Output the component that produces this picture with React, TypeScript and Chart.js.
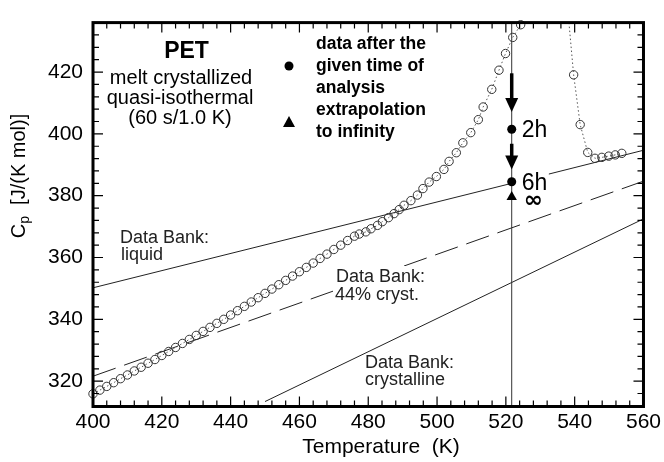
import React, { useEffect, useRef } from "react";
import { Chart, registerables } from "chart.js";
Chart.register(...registerables);

const FONT = "'Liberation Sans', Arial, Helvetica, sans-serif";

const xTickValues = [400, 420, 440, 460, 480, 500, 520, 540, 560];
const yTickValues = [320, 340, 360, 380, 400, 420];
const X_MIN = 400;
const X_MAX = 560;
const Y_MIN = 311.8;
const Y_MAX = 436;
const MINOR_STEP = 4;

// quasi-isothermal Cp on cooling / crystallization (open circles)
const meltT = [
  400, 402, 404, 406, 408, 410, 412, 414, 416, 418, 420, 422, 424, 426, 428, 430,
  432, 434, 436, 438, 440, 442, 444, 446, 448, 450, 452, 454, 456, 458, 460, 462,
  464, 466, 468, 470, 472, 474, 476, 477.4, 479.3, 480.8, 482.7, 484.1, 485.9,
  487.5, 489.0, 490.4, 492.4, 494.3, 495.9, 497.7, 499.8, 502.0, 503.5, 505.6,
  507.5, 509.8, 512.0, 513.4, 515.9, 518.0, 519.9, 522.0, 524.3,
];
const meltCp = [
  315.9, 317.1, 318.3, 319.5, 320.8, 322.0, 323.3, 324.5, 325.8, 327.0, 328.3,
  329.6, 330.9, 332.2, 333.5, 334.8, 336.1, 337.4, 338.7, 340.0, 341.4, 342.8,
  344.2, 345.6, 347.0, 348.4, 349.8, 351.2, 352.6, 354.0, 355.4, 356.8, 358.2,
  359.7, 361.1, 362.6, 364.0, 365.5, 366.9, 367.6, 368.3, 369.3, 370.4, 371.6,
  372.9, 374.2, 375.5, 376.9, 378.4, 380.2, 382.3, 384.4, 386.2, 388.5, 391.1,
  393.9, 397.1, 400.4, 404.6, 408.7, 414.4, 420.6, 426.0, 431.2, 435.3,
];

// second branch (right, open circles)
const reheatT = [537.6, 539.7, 541.6, 543.8, 545.9, 547.9, 549.9, 551.8, 553.7];
const reheatCp = [445.0, 419.1, 403.0, 394.0, 392.1, 392.4, 392.8, 393.2, 393.7];

// Data Bank reference lines
const liquidT = [400, 521.7, 527, 532.5, 560];
const liquidCp = [350.2, 384.0, null, 387.0, 394.7];
const semiT = [400, 560];
const semiCp = [321.6, 384.7];
const crystT = [450, 560];
const crystCp = [313.4, 372.5];

// isothermal line, measured points and extrapolation
const isoT = [521.7, 521.7];
const isoCp = [Y_MIN, Y_MAX];
const measT = [521.7, 521.7];
const measCp = [401.5, 384.5];
const measLabels = ["2h", "6h"];
const extrapT = [521.7];
const extrapCp = [379.6];
const extrapLabel = "\u221E";
const arrowT = [521.7, 521.7];
const arrowFromCp = [419.6, 396.8];
const arrowToCp = [407.1, 388.5];

const pts = (xs: number[], ys: (number | null)[]) => xs.map((x, i) => ({ x, y: ys[i] }));

const decorPlugin = {
  id: "decor",
  afterDraw(chart: any) {
    const ctx: CanvasRenderingContext2D = chart.ctx;
    const a = chart.chartArea;
    const xs = chart.scales.x;
    const ys = chart.scales.y;
    ctx.save();

    // arrows
    ctx.fillStyle = "#000";
    ctx.strokeStyle = "#000";
    for (let i = 0; i < arrowT.length; i++) {
      const x = xs.getPixelForValue(arrowT[i]);
      const y0 = ys.getPixelForValue(arrowFromCp[i]);
      const y1 = ys.getPixelForValue(arrowToCp[i]);
      ctx.lineWidth = 3.5;
      ctx.beginPath();
      ctx.moveTo(x, y0);
      ctx.lineTo(x, y1 - 11);
      ctx.stroke();
      ctx.beginPath();
      ctx.moveTo(x - 6.5, y1 - 14);
      ctx.lineTo(x + 6.5, y1 - 14);
      ctx.lineTo(x, y1);
      ctx.closePath();
      ctx.fill();
    }

    // labels next to points
    ctx.font = `23px ${FONT}`;
    ctx.textAlign = "left";
    ctx.textBaseline = "alphabetic";
    for (let i = 0; i < measT.length; i++) {
      const x = xs.getPixelForValue(measT[i]);
      const y = ys.getPixelForValue(measCp[i]);
      ctx.fillText(measLabels[i], x + 10, y + 8);
    }
    ctx.font = `bold 23px 'DejaVu Sans', sans-serif`;
    ctx.fillText(extrapLabel, xs.getPixelForValue(extrapT[0]) + 12, ys.getPixelForValue(extrapCp[0]) + 10);

    // frame
    ctx.lineWidth = 3;
    ctx.strokeRect(a.left, a.top, a.right - a.left, a.bottom - a.top);

    // inward ticks on all four sides
    ctx.lineWidth = 1.2;
    ctx.beginPath();
    for (let v = X_MIN; v <= X_MAX + 0.01; v += MINOR_STEP) {
      const major = xTickValues.includes(v);
      const L = major ? 10 : 6;
      const x = xs.getPixelForValue(v);
      ctx.moveTo(x, a.bottom);
      ctx.lineTo(x, a.bottom - L);
      ctx.moveTo(x, a.top);
      ctx.lineTo(x, a.top + L);
    }
    for (let v = 320 - 2 * MINOR_STEP; v <= Y_MAX - 0.5; v += MINOR_STEP) {
      if (v < Y_MIN) continue;
      const major = yTickValues.includes(v);
      const L = major ? 10 : 6;
      const y = ys.getPixelForValue(v);
      ctx.moveTo(a.left, y);
      ctx.lineTo(a.left + L, y);
      ctx.moveTo(a.right, y);
      ctx.lineTo(a.right - L, y);
    }
    ctx.stroke();

    // axis titles
    ctx.fillStyle = "#000";
    ctx.font = `21px ${FONT}`;
    ctx.textAlign = "center";
    ctx.fillText("Temperature  (K)", 381, 453);

    ctx.save();
    ctx.translate(25, 176);
    ctx.rotate(-Math.PI / 2);
    ctx.textAlign = "left";
    const big = `20px ${FONT}`;
    const small = `14px ${FONT}`;
    const rest = "  [J/(K mol)]";
    ctx.font = big;
    const wC = ctx.measureText("C").width;
    const wR = ctx.measureText(rest).width;
    ctx.font = small;
    const wp = ctx.measureText("p").width;
    const total = wC + wp + wR;
    let cx = -total / 2;
    ctx.font = big;
    ctx.fillText("C", cx, 0);
    cx += wC;
    ctx.font = small;
    ctx.fillText("p", cx, 4);
    cx += wp;
    ctx.font = big;
    ctx.fillText(rest, cx, 0);
    ctx.restore();

    // PET block
    ctx.textAlign = "center";
    ctx.font = `bold 23px ${FONT}`;
    ctx.fillText("PET", 186.5, 58);
    ctx.font = `20px ${FONT}`;
    ctx.fillText("melt crystallized", 181, 84);
    ctx.fillText("quasi-isothermal", 180, 104);
    ctx.fillText("(60 s/1.0 K)", 180, 124);

    // legend
    ctx.textAlign = "left";
    ctx.font = `bold 17.5px ${FONT}`;
    ctx.beginPath();
    ctx.arc(289, 66, 4.5, 0, Math.PI * 2);
    ctx.fill();
    ctx.beginPath();
    ctx.moveTo(289 - 6, 127);
    ctx.lineTo(289 + 6, 127);
    ctx.lineTo(289, 116);
    ctx.closePath();
    ctx.fill();
    ctx.fillText("data after the", 316, 49);
    ctx.fillText("given time of", 316, 71);
    ctx.fillText("analysis", 316, 93);
    ctx.fillText("extrapolation", 316, 115);
    ctx.fillText("to infinity", 316, 137);

    // Data Bank labels
    ctx.fillStyle = "#222";
    ctx.font = `18px ${FONT}`;
    ctx.fillText("Data Bank:", 120, 243);
    ctx.fillText("liquid", 121, 260);
    ctx.fillStyle = "#fff";
    ctx.fillRect(333, 266, 90, 38);
    ctx.fillStyle = "#222";
    ctx.fillText("Data Bank:", 336, 282);
    ctx.fillText("44% cryst.", 335, 300);
    ctx.fillText("Data Bank:", 365, 368);
    ctx.fillText("crystalline", 365, 385);

    ctx.restore();
  },
};

export default function App() {
  const ref = useRef<HTMLCanvasElement | null>(null);
  useEffect(() => {
    if (!ref.current) return;
    const lineDs = (xs: number[], ys: (number | null)[], extra: any = {}) => ({
      data: pts(xs, ys),
      showLine: true,
      borderColor: "#222",
      borderWidth: 1,
      pointRadius: 0,
      spanGaps: false,
      ...extra,
    });
    const circleDs = (xs: number[], ys: number[], extra: any = {}) => ({
      data: pts(xs, ys),
      showLine: true,
      borderColor: "#555",
      borderWidth: 1,
      borderDash: [1.5, 2.5],
      pointRadius: 4.2,
      pointBorderWidth: 1,
      pointBorderColor: "#333",
      pointBackgroundColor: "rgba(0,0,0,0)",
      ...extra,
    });
    const chart = new Chart(ref.current, {
      type: "scatter",
      data: {
        datasets: [
          {
            data: pts(measT, measCp),
            pointRadius: 4.5,
            pointBackgroundColor: "#000",
            pointBorderColor: "#000",
            pointBorderWidth: 0,
          },
          {
            data: pts(extrapT, extrapCp),
            pointStyle: "triangle",
            pointRadius: 6,
            pointBackgroundColor: "#000",
            pointBorderColor: "#000",
            pointBorderWidth: 0,
          },
          circleDs(meltT, meltCp, { clip: false }),
          circleDs(reheatT, reheatCp),
          lineDs(isoT, isoCp, { borderColor: "#333" }),
          lineDs(liquidT, liquidCp),
          lineDs(semiT, semiCp, { borderDash: [24, 9] }),
          lineDs(crystT, crystCp),
        ],
      },
      options: {
        animation: false,
        responsive: false,
        devicePixelRatio: 1,
        events: [],
        layout: { padding: { left: 0, right: 19, top: 6.5, bottom: 0 } },
        plugins: { legend: { display: false }, tooltip: { enabled: false } },
        scales: {
          x: {
            type: "linear",
            min: X_MIN,
            max: X_MAX,
            grid: { display: false, drawTicks: false },
            border: { display: false },
            ticks: { font: { family: FONT, size: 21 }, color: "#000", padding: 3, maxRotation: 0, autoSkip: false },
            afterBuildTicks: (s: any) => {
              s.ticks = xTickValues.map((v) => ({ value: v }));
            },
            afterFit: (s: any) => {
              s.height = 55.5;
            },
          },
          y: {
            type: "linear",
            min: Y_MIN,
            max: Y_MAX,
            grid: { display: false, drawTicks: false },
            border: { display: false },
            ticks: { font: { family: FONT, size: 21 }, color: "#000", padding: 10, autoSkip: false },
            afterBuildTicks: (s: any) => {
              s.ticks = yTickValues.map((v) => ({ value: v }));
            },
            afterFit: (s: any) => {
              s.width = 93;
            },
          },
        },
      },
      plugins: [decorPlugin],
    } as any);
    return () => chart.destroy();
  }, []);
  return (
    <div style={{ position: "fixed", left: 0, top: 0, width: 664, height: 462, background: "#fff" }}>
      <canvas ref={ref} width={664} height={462} style={{ width: 664, height: 462, display: "block" }} />
    </div>
  );
}
